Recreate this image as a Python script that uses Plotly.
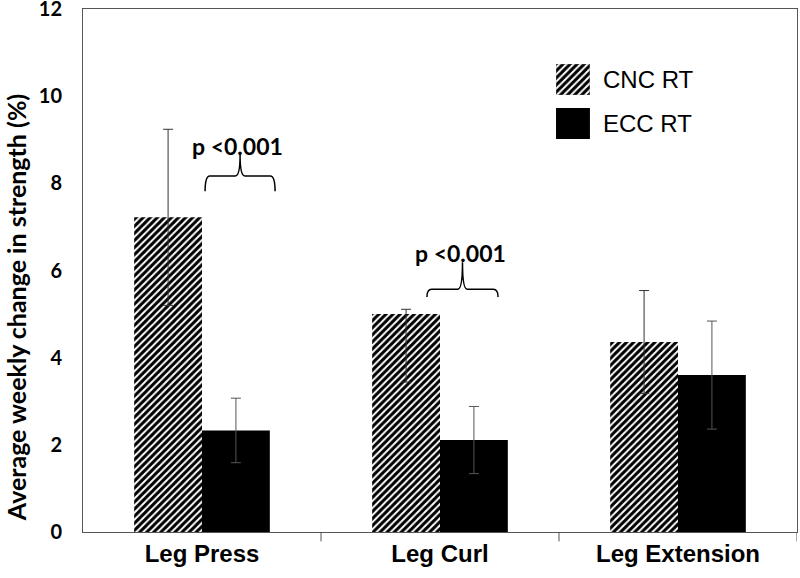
import plotly.graph_objects as go

categories = ["Leg Press", "Leg Curl", "Leg Extension"]
cnc_values = [7.22, 5.00, 4.36]
cnc_err_plus = [2.02, 0.11, 1.18]
cnc_err_minus = [2.02, 1.56, 1.18]
ecc_values = [2.33, 2.11, 3.60]
ecc_err = [0.74, 0.77, 1.24]
y_ticks = [0, 2, 4, 6, 8, 10, 12]
series_names = ["CNC RT", "ECC RT"]
sig_label = "p <0.001"
# bracket definitions: (left x, right x, bottom y, horizontal y, tip y)
brackets = [(0.013, 0.307, 7.82, 8.17, 8.65), (0.945, 1.244, 5.39, 5.57, 6.19)]

xpos = list(range(len(categories)))

hatch = dict(shape="/", fgcolor="#000000", fgopacity=1, bgcolor="white", size=5, solidity=0.6)

fig = go.Figure()
fig.add_trace(go.Bar(
    x=xpos, y=cnc_values, name=series_names[0], showlegend=False,
    marker=dict(color="white", line=dict(width=0), pattern=hatch),
    error_y=dict(type="data", symmetric=False, array=cnc_err_plus, arrayminus=cnc_err_minus,
                 color="#333333", thickness=1, width=5),
))
fig.add_trace(go.Bar(
    x=xpos, y=ecc_values, name=series_names[1], showlegend=False,
    marker=dict(color="black", line=dict(width=0)),
    error_y=dict(type="data", array=ecc_err, color="#555555", thickness=1, width=5),
))

# legend swatches (drawn as large boxes like the original legend)
fig.add_trace(go.Bar(x=[0], y=[1], width=[1], xaxis="x2", yaxis="y2", showlegend=False,
                     hoverinfo="skip", marker=dict(color="white", line=dict(width=0.5, color="#888"),
                                                   pattern=hatch)))
fig.add_trace(go.Bar(x=[0], y=[1], width=[1], xaxis="x3", yaxis="y3", showlegend=False,
                     hoverinfo="skip", marker=dict(color="black", line=dict(width=0))))
for name, ypix in zip(series_names, [0.8652, 0.7810]):
    fig.add_annotation(x=0.725, y=ypix, xref="paper", yref="paper", text=name, showarrow=False,
                       xanchor="left", yanchor="middle",
                       font=dict(family="Liberation Sans", size=24, color="black"))

for (l, r, b, h, t) in brackets:
    c = (l + r) / 2
    dx = 0.02
    path = (f"M {l},{b} Q {l},{h} {l+dx},{h} L {c-dx},{h} Q {c},{h} {c},{t} "
            f"Q {c},{h} {c+dx},{h} L {r-dx},{h} Q {r},{h} {r},{b}")
    fig.add_shape(type="path", path=path, xref="x", yref="y",
                  line=dict(color="black", width=1.5))
    fig.add_annotation(x=c - 0.01, y=t, xref="x", yref="y", text=f"<b>{sig_label}</b>",
                       showarrow=False, yanchor="bottom", yshift=-7,
                       font=dict(family="Lato", size=23, color="black"))

fig.add_annotation(x=-0.0938, y=0.428, xref="paper", yref="paper",
                   text="<b>Average weekly change in strength (%)</b>", textangle=-90,
                   showarrow=False, xanchor="center", yanchor="middle",
                   font=dict(family="Lato", size=25, color="black"))

fig.update_layout(
    width=800, height=578,
    margin=dict(l=83, r=3, t=9, b=46),
    plot_bgcolor="white", paper_bgcolor="white",
    barmode="group", bargap=0.43, bargroupgap=0,
    showlegend=False,
    xaxis=dict(range=[-0.5, 2.5], tickvals=xpos, ticktext=[f"<b>{c}</b>" for c in categories],
               showline=True, linecolor="#555555", linewidth=1, mirror=True,
               ticks="", showgrid=False, zeroline=False, automargin=False,
               tickfont=dict(family="Liberation Sans", size=24, color="black")),
    yaxis=dict(range=[0, 12], tickvals=y_ticks, ticktext=[f"<b>{v}</b>" for v in y_ticks],
               showline=True, linecolor="#555555", linewidth=1, mirror=True,
               ticks="", showgrid=False, zeroline=False, automargin=False,
               ticklabeloverflow="allow", ticklabelstandoff=16,
               tickfont=dict(family="Lato", size=20, color="black")),
    xaxis2=dict(domain=[0.6625, 0.710], range=[-0.5, 0.5], visible=False, fixedrange=True),
    yaxis2=dict(domain=[0.8356, 0.8948], range=[0, 1], visible=False, fixedrange=True),
    xaxis3=dict(domain=[0.6625, 0.710], range=[-0.5, 0.5], visible=False, fixedrange=True),
    yaxis3=dict(domain=[0.7514, 0.8107], range=[0, 1], visible=False, fixedrange=True),
)

# tick marks between categories on the x axis
for xb in [0.5, 1.5, 2.5]:
    fig.add_shape(type="line", xref="x", yref="paper", x0=xb, x1=xb, y0=0, y1=-0.018,
                  line=dict(color="#555555", width=1))

fig.write_html("out.html", config={"displayModeBar": False},
               post_script="document.body.style.margin='0';document.body.style.overflow='hidden';")
